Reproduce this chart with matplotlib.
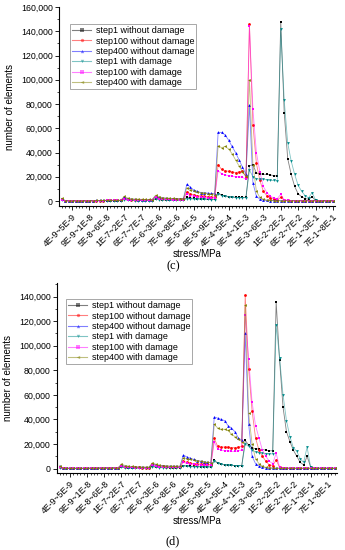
import numpy as np
import matplotlib
matplotlib.use("Agg")
import matplotlib.pyplot as plt
from matplotlib.ticker import FixedLocator, MultipleLocator, FuncFormatter

plt.rcParams['font.family'] = ['Liberation Sans', 'DejaVu Sans']

# stress bins: 1E-9~2E-9, 2E-9~3E-9, ... 9E-1~1E0
bins = []
for e in range(-9, 0):
    for m in range(1, 10):
        lo = "%dE%d" % (m, e)
        hi = "%dE%d" % (m + 1, e) if m < 9 else "1E%d" % (e + 1)
        bins.append(lo + "~" + hi)
tick_idx = list(range(3, 79, 5))
tick_labels = [bins[i] for i in tick_idx]

series_names = ["step1 without damage", "step100 without damage", "step400 without damage",
                "step1 with damage", "step100 with damage", "step400 with damage"]

# ---- panel (c) ----
black_c = [1200, 200, 150, 150, 150, 150, 150, 150, 150,
           200, 300, 300, 300, 400, 400, 400, 400, 400,
           1500, 900, 700, 600, 500, 500, 500, 500, 500,
           2000, 1500, 1200, 1000, 900, 800, 800, 800, 800,
           3000, 2500, 2200, 2000, 1800, 1700, 1600, 1500, 1500,
           6500, 5000, 4200, 3600, 3300, 3100, 3000, 3000, 3000,
           29000, 30000, 23000, 22500, 22000, 22000, 21500, 21000, 20500,
           148000, 73000, 35000, 22000, 12000, 6000, 3500, 2000, 1500,
           3500, 500, 300, 200, 200, 200, 200]
red_c = [1500, 300, 200, 200, 200, 200, 200, 200, 200,
         300, 400, 400, 400, 500, 500, 500, 500, 500,
         2500, 1500, 1200, 1000, 900, 900, 800, 800, 800,
         3500, 2500, 2000, 1800, 1600, 1500, 1400, 1400, 1400,
         7700, 6000, 5000, 4500, 4000, 3800, 3500, 3300, 3200,
         30000, 26000, 25000, 24500, 24000, 23500, 24000, 24500, 20000,
         146000, 63000, 31000, 17000, 8000, 4500, 2500, 1500, 1000,
         3000, 800, 500, 300, 200, 200, 200, 200, 200,
         200, 200, 200, 200, 200, 200, 200]
blue_c = [2000, 400, 300, 300, 300, 300, 300, 300, 300,
          400, 500, 500, 500, 600, 600, 600, 600, 600,
          3000, 1800, 1500, 1300, 1200, 1100, 1100, 1000, 1000,
          4000, 3000, 2500, 2200, 2000, 1900, 1800, 1800, 1800,
          13800, 11500, 9000, 8000, 7000, 6800, 6500, 6300, 6000,
          56600, 56600, 54500, 50300, 45000, 40000, 34000, 28000, 22000,
          79000, 15000, 4000, 1500, 800, 500, 400, 300, 300,
          300, 300, 300, 300, 300, 300, 300, 300, 300,
          300, 300, 300, 300, 300, 300, 300]
teal_c = [800, 150, 100, 100, 100, 100, 100, 100, 100,
          150, 200, 200, 200, 300, 300, 300, 300, 300,
          1200, 700, 500, 400, 400, 400, 400, 400, 400,
          1500, 1000, 800, 700, 700, 600, 600, 600, 600,
          2000, 1800, 1600, 1500, 1400, 1300, 1300, 1200, 1200,
          6000, 4500, 3800, 3300, 3000, 2900, 2800, 2800, 2800,
          25600, 20000, 18500, 18000, 18000, 17500, 17000, 17000, 16500,
          142000, 83000, 48000, 33000, 22000, 13000, 8000, 4500, 2500,
          7000, 1000, 300, 200, 200, 200, 200]
magenta_c = [1000, 200, 150, 150, 150, 150, 150, 150, 150,
             250, 350, 350, 350, 450, 450, 450, 450, 450,
             2000, 1200, 1000, 900, 800, 800, 700, 700, 700,
             3000, 2000, 1600, 1400, 1300, 1200, 1200, 1100, 1100,
             5800, 4500, 4000, 3500, 3200, 3000, 2900, 2800, 2800,
             25000, 22500, 21500, 21000, 20500, 20000, 20000, 19500, 18000,
             144000, 76000, 40000, 24000, 12000, 7000, 4000, 2500, 2000,
             5500, 1000, 500, 300, 200, 200, 200, 200, 200,
             200, 200, 200, 200, 200, 200, 200]
olive_c = [2200, 400, 300, 300, 300, 300, 300, 300, 300,
           400, 500, 500, 500, 600, 600, 600, 600, 600,
           3800, 2500, 2000, 1700, 1500, 1400, 1300, 1300, 1200,
           4800, 3500, 2800, 2500, 2300, 2100, 2000, 2000, 2000,
           11000, 9500, 8500, 7500, 7000, 6500, 6000, 5500, 5000,
           45600, 44000, 45000, 43000, 39000, 34000, 29000, 24000, 20500,
           100000, 30000, 8000, 3000, 1500, 800, 500, 400, 300,
           300, 300, 300, 300, 300, 300, 300, 300, 300,
           300, 300, 300, 300, 300, 300, 300]

# ---- panel (d) ----
black_d = [1500, 200, 150, 150, 150, 150, 150, 150, 150,
           200, 300, 300, 300, 400, 400, 400, 400, 400,
           1500, 900, 700, 600, 500, 500, 500, 500, 500,
           2000, 1500, 1200, 1000, 900, 800, 800, 800, 800,
           2500, 2200, 2000, 1800, 1700, 1600, 1500, 1500, 1500,
           6800, 4500, 3500, 3000, 2800, 2600, 2500, 2500, 2500,
           23000, 19000, 17000, 16000, 16000, 15500, 15000, 14500, 14500,
           135700, 88000, 50000, 30000, 22000, 15000, 10000, 5000, 3000,
           10000, 1500, 500, 300, 200, 200, 200, 200, 200]
red_d = [1500, 300, 200, 200, 200, 200, 200, 200, 200,
         300, 400, 400, 400, 500, 500, 500, 500, 500,
         2500, 1500, 1200, 1000, 900, 900, 800, 800, 800,
         3500, 2500, 2000, 1800, 1600, 1500, 1400, 1400, 1400,
         6000, 5000, 4500, 4000, 3800, 3600, 3500, 3400, 3300,
         24500, 18000, 17500, 17500, 17500, 17000, 17000, 17500, 18000,
         141000, 81000, 47000, 25000, 15000, 10000, 6000, 3000, 2500,
         7000, 1000, 500, 300, 200, 200, 200, 200, 200,
         200, 200, 200, 200, 200, 200, 200, 200, 200]
blue_d = [2000, 400, 300, 300, 300, 300, 300, 300, 300,
          400, 500, 500, 500, 600, 600, 600, 600, 600,
          3000, 1800, 1500, 1300, 1200, 1100, 1100, 1000, 1000,
          4000, 3000, 2500, 2200, 2000, 1900, 1800, 1800, 1800,
          11000, 9500, 8500, 7500, 6500, 6000, 5500, 5000, 4800,
          42000, 41000, 40000, 39000, 35000, 33000, 30000, 25000, 23000,
          110000, 36000, 10000, 4000, 2000, 1000, 500, 400, 300,
          300, 300, 300, 300, 300, 300, 300, 300, 300,
          300, 300, 300, 300, 300, 300, 300, 300, 300]
teal_d = [800, 150, 100, 100, 100, 100, 100, 100, 100,
          150, 200, 200, 200, 300, 300, 300, 300, 300,
          1200, 700, 500, 400, 400, 400, 400, 400, 400,
          1500, 1000, 800, 700, 700, 600, 600, 600, 600,
          2000, 1800, 1600, 1500, 1400, 1300, 1300, 1200, 1200,
          6000, 4500, 3500, 3000, 2800, 2600, 2500, 2500, 2500,
          20000, 18000, 15000, 13500, 13000, 12500, 12000, 12000, 12000,
          117000, 90000, 60000, 39000, 26000, 17000, 14000, 8000, 5000,
          17600, 1500, 500, 300, 200, 200, 200, 200, 200]
magenta_d = [1000, 200, 150, 150, 150, 150, 150, 150, 150,
             250, 350, 350, 350, 450, 450, 450, 450, 450,
             2000, 1200, 1000, 900, 800, 800, 700, 700, 700,
             3000, 2000, 1600, 1400, 1300, 1200, 1200, 1100, 1100,
             5000, 4200, 3800, 3400, 3200, 3000, 2900, 2800, 2800,
             21700, 16000, 15000, 14500, 14500, 14000, 14000, 14500, 15000,
             125000, 89000, 54000, 35000, 25000, 15000, 10000, 6000, 4000,
             12500, 1000, 500, 300, 200, 200, 200, 200, 200,
             200, 200, 200, 200, 200, 200, 200, 200, 200]
olive_d = [2200, 400, 300, 300, 300, 300, 300, 300, 300,
           400, 500, 500, 500, 600, 600, 600, 600, 600,
           3800, 2500, 2000, 1700, 1500, 1400, 1300, 1300, 1200,
           4800, 3500, 2800, 2500, 2300, 2100, 2000, 2000, 2000,
           9000, 8000, 7500, 7000, 6500, 6000, 5500, 5000, 4800,
           35900, 33000, 32000, 32000, 31000, 28000, 26000, 24000, 22000,
           133000, 45000, 20000, 8000, 4000, 2000, 1000, 600, 400,
           300, 300, 300, 300, 300, 300, 300, 300, 300,
           300, 300, 300, 300, 300, 300, 300, 300, 300]

colors = ["#000000", "#ff0000", "#0000ff", "#008b8b", "#ff00ff", "#808000"]
markers = ["s", "o", "^", "v", "s", "<"]


def draw(ax, data, ylim, ymax_label, legend_top):
    for vals, c, m, name in zip(data, colors, markers, series_names):
        x = np.arange(len(vals))
        ax.plot(x, vals, color=c, lw=0.6, alpha=0.5)
        ax.plot(x, vals, ls="none", marker=m, ms=2.0, mew=0, color=c)
        ax.plot([], [], color=c, lw=0.8, alpha=0.5, marker=m, ms=2.4, mew=0,
                mfc=c, label=name)
    ax.set_ylim(*ylim)
    ax.spines["top"].set_visible(False)
    ax.spines["right"].set_visible(False)
    ax.yaxis.set_major_locator(FixedLocator(list(range(0, ymax_label + 1, 20000))))
    ax.yaxis.set_minor_locator(MultipleLocator(10000))
    ax.yaxis.set_major_formatter(FuncFormatter(lambda v, p: "{:,}".format(int(v))))
    ax.xaxis.set_major_locator(FixedLocator(tick_idx))
    ax.xaxis.set_minor_locator(MultipleLocator(1))
    ax.set_xticklabels(tick_labels, rotation=45, ha="right", rotation_mode="anchor")
    ax.tick_params(which="major", direction="out", length=3, width=0.6, labelsize=6.3, pad=1.5)
    ax.tick_params(which="minor", direction="out", length=1.6, width=0.5)
    ax.set_ylabel("number of elements", fontsize=7, labelpad=4)
    ax.set_xlabel("stress/MPa", fontsize=7, labelpad=0.5)
    leg = ax.legend(loc="upper left", bbox_to_anchor=legend_top,
                    bbox_transform=fig.transFigure, fontsize=6.5, frameon=True,
                    fancybox=False, edgecolor="#999999", framealpha=1,
                    handlelength=2.1, handletextpad=0.5, borderpad=0.25,
                    labelspacing=0.15, borderaxespad=0)
    leg.get_frame().set_linewidth(0.6)


fig = plt.figure(figsize=(3.45, 5.5), dpi=100)
W, H = 345.0, 550.0
ax1 = fig.add_axes([59 / W, 1 - 206 / H, (335 - 59) / W, (206 - 7) / H])
ax2 = fig.add_axes([57 / W, 1 - 473 / H, (337 - 57) / W, (473 - 283) / H])

draw(ax1, [black_c, red_c, blue_c, teal_c, magenta_c, olive_c],
     (-4100, 160000), 160000, (70 / W, 1 - 24 / H))
ax1.set_xlim(-0.75, 78.6)

draw(ax2, [black_d, red_d, blue_d, teal_d, magenta_d, olive_d],
     (-3600, 151000), 140000, (66 / W, 1 - 299 / H))
ax2.set_xlim(-0.75, 80.7)

fig.text(173 / W, 1 - 266 / H, "(c)", fontsize=9, family="Liberation Serif",
         ha="center", va="center")
fig.text(173 / W, 1 - 541 / H, "(d)", fontsize=9, family="Liberation Serif",
         ha="center", va="center")

fig.savefig("out.png", dpi=100)
